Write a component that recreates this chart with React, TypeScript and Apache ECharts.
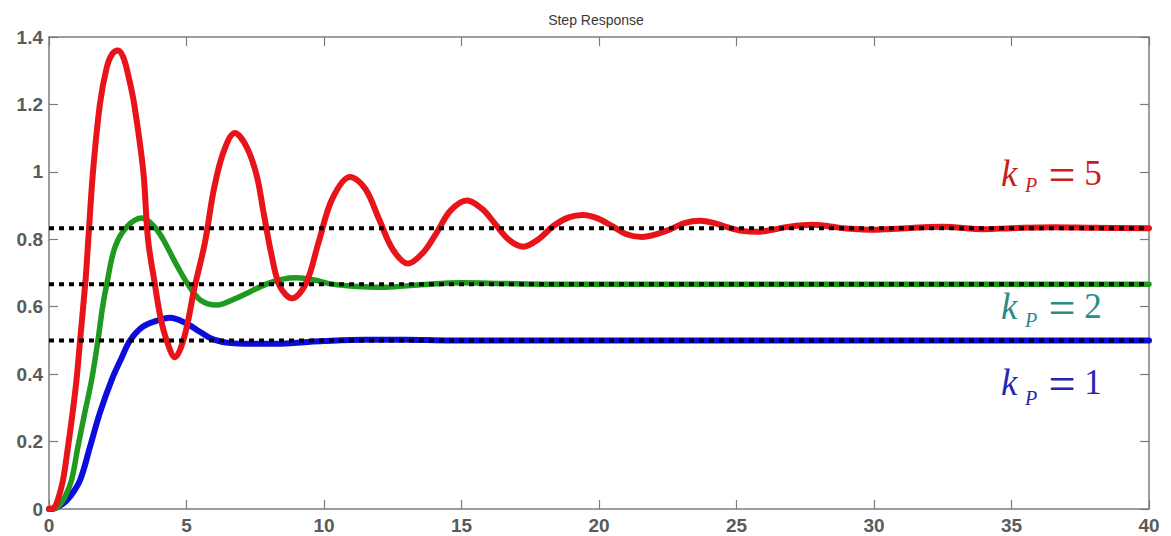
import React, { useEffect, useRef } from "react";
import * as echarts from "echarts";

// Step response values (time t, output y)
const redT = [0, 0.2, 0.33, 0.51, 0.69, 0.85, 1.0, 1.13, 1.33, 1.43, 1.6, 1.85, 2.1, 2.3, 2.51, 2.7, 2.9, 3.1, 3.43, 3.6, 3.85, 4.05, 4.28, 4.58, 4.92, 5.3, 5.67, 6.0, 6.35, 6.76, 7.18, 7.55, 7.8, 8.1, 8.4, 8.84, 9.35, 9.8, 10.3, 10.95, 11.5, 12.0, 12.5, 13.05, 13.6, 14.1, 14.6, 15.2, 15.75, 16.2, 16.7, 17.25, 17.8, 18.35, 18.9, 19.42, 19.95, 20.5, 21.0, 21.56, 22.1, 22.6, 23.1, 23.67, 24.2, 24.7, 25.2, 25.75, 26.3, 26.8, 27.75, 28.4, 29.0, 30.0, 31.0, 32.5, 34.0, 35.0, 36.5, 38.0, 40.0];
const redV = [0, 0.005, 0.03, 0.086, 0.184, 0.28, 0.383, 0.5, 0.68, 0.8, 1.0, 1.2, 1.31, 1.35, 1.36, 1.34, 1.28, 1.2, 1.0, 0.8, 0.667, 0.57, 0.5, 0.45, 0.51, 0.66, 0.79, 0.95, 1.06, 1.115, 1.075, 0.99, 0.88, 0.75, 0.66, 0.625, 0.67, 0.79, 0.92, 0.985, 0.95, 0.86, 0.77, 0.728, 0.76, 0.82, 0.885, 0.915, 0.89, 0.848, 0.8, 0.778, 0.8, 0.84, 0.865, 0.872, 0.862, 0.838, 0.815, 0.807, 0.815, 0.83, 0.848, 0.855, 0.848, 0.835, 0.825, 0.822, 0.828, 0.836, 0.843, 0.838, 0.832, 0.828, 0.832, 0.837, 0.83, 0.833, 0.836, 0.834, 0.833];

const greenT = [0, 0.3, 0.58, 0.82, 1.05, 1.3, 1.55, 1.78, 1.95, 2.1, 2.4, 2.83, 3.38, 3.8, 4.15, 4.6, 5.05, 5.5, 6.1, 6.8, 7.9, 8.5, 9.0, 9.6, 10.3, 11.2, 12.2, 13.5, 15.0, 16.5, 18.0, 40.0];
const greenV = [0, 0.005, 0.036, 0.086, 0.184, 0.285, 0.383, 0.5, 0.6, 0.667, 0.777, 0.837, 0.863, 0.84, 0.8, 0.73, 0.667, 0.62, 0.605, 0.625, 0.667, 0.682, 0.686, 0.68, 0.667, 0.66, 0.658, 0.665, 0.671, 0.669, 0.667, 0.667];

const blueT = [0, 0.2, 0.5, 0.76, 1.13, 1.49, 1.85, 2.28, 2.65, 2.95, 3.4, 3.9, 4.4, 5.0, 5.5, 5.97, 6.6, 7.3, 8.2, 9.0, 10.0, 11.5, 13.0, 14.5, 40.0];
const blueV = [0, 0.002, 0.015, 0.036, 0.086, 0.184, 0.285, 0.383, 0.45, 0.5, 0.54, 0.558, 0.567, 0.55, 0.525, 0.503, 0.492, 0.49, 0.49, 0.493, 0.498, 0.502, 0.502, 0.5, 0.5];

// Final (steady-state) values drawn as dotted reference lines
const finalValues = [0.5, 0.667, 0.833];
const dottedSpan = [0, 40];

// Axis ticks
const xTicks = { min: 0, max: 40, interval: 5 };
const yTicks = { min: 0, max: 1.4, interval: 0.2 };

const labelTexts = [
  { sub: "P", rhs: "5", color: "#cc1c1c" },
  { sub: "P", rhs: "2", color: "#2b8b8b" },
  { sub: "P", rhs: "1", color: "#2626b4" },
];

const zip = (t: number[], v: number[]) => t.map((x, i) => [x, v[i]]);

export default function App() {
  const ref = useRef<HTMLDivElement>(null);
  useEffect(() => {
    if (!ref.current) return;
    const chart = echarts.init(ref.current, null, { renderer: "svg" });
    const axisColor = "#7c7c7c";
    const labelStyle = {
      color: "#5a5a5a",
      fontSize: 19,
      fontWeight: "bold" as const,
      fontFamily: "Liberation Sans, Arial, sans-serif",
    };
    const makeX = (pos: "bottom" | "top", main: boolean) => ({
      type: "value" as const,
      ...xTicks,
      position: pos,
      axisLine: { show: true, onZero: false, lineStyle: { color: axisColor, width: 1.5 } },
      axisTick: { show: true, inside: true, length: 9, lineStyle: { color: axisColor, width: 1.2 } },
      axisLabel: main ? { ...labelStyle, margin: 7 } : { show: false },
      splitLine: { show: false },
    });
    const makeY = (pos: "left" | "right", main: boolean) => ({
      type: "value" as const,
      ...yTicks,
      position: pos,
      axisLine: { show: true, onZero: false, lineStyle: { color: axisColor, width: 1.5 } },
      axisTick: { show: true, inside: true, length: 9, lineStyle: { color: axisColor, width: 1.2 } },
      axisLabel: main ? { ...labelStyle, margin: 6 } : { show: false },
      splitLine: { show: false },
    });

    const curve = (name: string, data: number[][], color: string, width: number, z: number) => ({
      name,
      type: "line" as const,
      data,
      smooth: 0.35,
      showSymbol: false,
      symbol: "none",
      lineStyle: { color, width, cap: "round" as const, join: "round" as const },
      z,
      silent: true,
    });

    const dotted = finalValues.map((v, i) => ({
      name: "final" + i,
      type: "line" as const,
      data: dottedSpan.map((t) => [t, v]),
      showSymbol: false,
      symbol: "none",
      lineStyle: { color: "#000", width: 4, type: [5, 5] as number[] },
      z: 10,
      silent: true,
    }));

    const labelY = [173, 306, 382];
    const subY = [185, 320, 398];
    const serif = "'Liberation Serif', 'Times New Roman', serif";
    const graphics: any[] = [
      {
        type: "text",
        x: 596,
        y: 20,
        style: {
          text: "Step Response",
          fill: "#3a3a3a",
          font: "14px 'Liberation Sans', Arial, sans-serif",
          textAlign: "center",
          textVerticalAlign: "middle",
        },
      },
    ];
    labelTexts.forEach((l, i) => {
      graphics.push({
        type: "text",
        x: 1001,
        y: labelY[i],
        style: { text: "k", fill: l.color, font: `italic 37px ${serif}`, textAlign: "left", textVerticalAlign: "middle" },
      });
      graphics.push({
        type: "text",
        x: 1025,
        y: subY[i],
        style: { text: l.sub, fill: l.color, font: `italic 20px ${serif}`, textAlign: "left", textVerticalAlign: "middle" },
      });
      graphics.push({
        type: "text",
        x: 1062,
        y: labelY[i] + 1,
        style: { text: "=", fill: l.color, font: `48px ${serif}`, textAlign: "center", textVerticalAlign: "middle" },
      });
      graphics.push({
        type: "text",
        x: 1093,
        y: labelY[i],
        style: { text: l.rhs, fill: l.color, font: `35px ${serif}`, textAlign: "center", textVerticalAlign: "middle" },
      });
    });

    chart.setOption({
      animation: false,
      backgroundColor: "#ffffff",
      grid: { left: 49, right: 22, top: 37, bottom: 27, containLabel: false },
      xAxis: [makeX("bottom", true), makeX("top", false)],
      yAxis: [makeY("left", true), makeY("right", false)],
      series: [
        curve("kp=1", zip(blueT, blueV), "#0c0cdc", 6, 2),
        curve("kp=2", zip(greenT, greenV), "#1f9a1f", 5.5, 3),
        curve("kp=5", zip(redT, redV), "#e8141a", 6, 4),
        ...dotted,
      ],
      graphic: graphics,
    });
    return () => chart.dispose();
  }, []);
  return (
    <div
      ref={ref}
      style={{ position: "fixed", left: 0, top: 0, width: 1171, height: 536, background: "#fff" }}
    />
  );
}
